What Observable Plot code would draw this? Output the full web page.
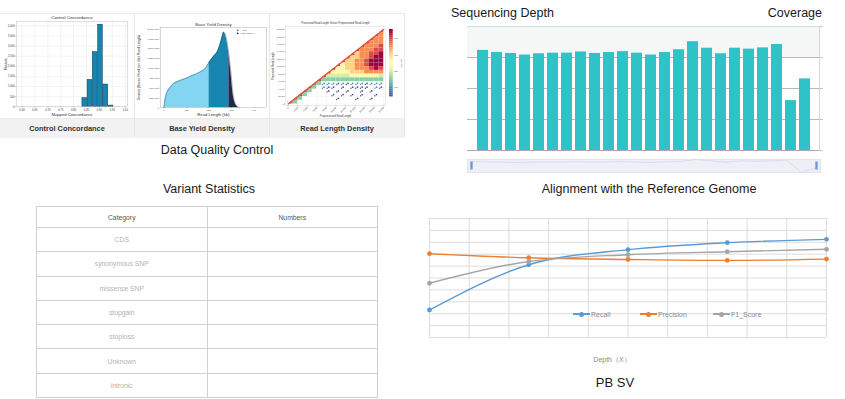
<!DOCTYPE html>
<html>
<head>
<meta charset="utf-8">
<script src="https://cdn.jsdelivr.net/npm/d3@7"></script>
<script src="https://cdn.jsdelivr.net/npm/@observablehq/plot@0.6"></script>
<style>
html,body{margin:0;padding:0;background:#fff;}
#root{position:relative;width:845px;height:399px;overflow:hidden;font-family:"Liberation Sans",Arial,sans-serif;color:#1a1a1a;}
.abs{position:absolute;}
.lbl{position:absolute;white-space:nowrap;line-height:1;}
.card{position:absolute;top:13px;width:135px;height:124px;border-top:1px solid #ececec;border-right:1px solid #e6e6e6;box-sizing:border-box;background:#fff;}
.foot{position:absolute;left:0;right:0;top:104px;height:19px;background:#f2f2f2;border-top:1px solid #e9e9e9;font-weight:bold;font-size:7.4px;color:#333;display:flex;align-items:center;justify-content:center;}
table.vs{border-collapse:collapse;table-layout:fixed;width:342px;}
table.vs td,table.vs th{border:1px solid #d0d0d0;text-align:center;padding:0;font-size:6.8px;}
table.vs th{font-weight:normal;color:#555;height:20px;}
table.vs td{color:#b3b3b3;height:23.3px;}
.legend{position:absolute;top:309px;left:573px;height:10px;display:flex;align-items:center;font-size:7px;color:#8a8a8a;}
.lg{display:flex;align-items:center;}
.sw{position:relative;width:17px;height:1.4px;margin-right:1px;}
.sw i{position:absolute;left:6px;top:-1.8px;width:5px;height:5px;border-radius:50%;}
</style>
</head>
<body>
<div id="root"></div>
<script>
// ---------- Data Quality Control: Control Concordance ----------
const concordanceBinEdges = [0.833, 0.853, 0.873, 0.894, 0.914, 0.935, 0.955];
const concordanceReads = [430, 1330, 2700, 4050, 1100, 60];
const concordanceTicks = [0.60, 0.65, 0.70, 0.75, 0.80, 0.85, 0.90, 0.95, 1.00];
const readsTicks = [0, 500, 1000, 1500, 2000, 2500, 3000, 3500, 4000];

// ---------- Base Yield Density ----------
const readLengthKb = [0, 5, 13, 25, 42, 70, 101, 130, 160, 185, 200, 218, 240, 254, 265, 276, 288, 299, 306, 313, 324, 335];
const baseDensity = [0, 220000, 383000, 500000, 608000, 690000, 758000, 830000, 908000, 1010000, 1150000, 1290000, 1460000, 1710000, 1920000, 1790000, 1375000, 790000, 375000, 167000, 42000, 0];
const yieldSplits = [200, 288];
const yieldColors = ["#84d5f2", "#1786b0", "#1c2b45"];
const yieldLegend = ["<= N50", "> N50 (approx.)"];
const densityTicks = [0, 250000, 500000, 750000, 1000000, 1250000, 1500000, 1750000, 2000000];
const readLengthTicks = [0, 100, 200, 300, 400];

// ---------- Read Length Density (density level per cell, top row first) ----------
const rlDensityRows = [
  "00000000000000000008",
  "00000000000000000087",
  "00000000000000000877",
  "00000000000000008777",
  "00000000000000087778",
  "00000000000000877788",
  "00000000000008677889",
  "00000000000086677899",
  "00000000000866778999",
  "00000000008566778999",
  "00000000085566777898",
  "00000000855556667777",
  "00000008444445555554",
  "00000083333333333333",
  "00000832221212221222",
  "00008302110101111021",
  "00083000101010010100",
  "00830000010101010010",
  "08300000001000100100",
  "83000000000000000000"
];
const rlDiagonal = [0, 20];
const rlTicks = [0, 2, 4, 6, 8, 10, 12, 14, 16, 18, 20];
const countTicks = [2, 4, 6, 8];

// ---------- Sequencing Depth / Coverage ----------
const chromosomes = ["chr1","chr2","chr3","chr4","chr5","chr6","chr7","chr8","chr9","chr10","chr11","chr12","chr13","chr14","chr15","chr16","chr17","chr18","chr19","chr20","chr21","chr22","chrX","chrY"];
const depthValues = [32.3, 31.6, 31.3, 30.8, 31.2, 31.4, 31.4, 31.8, 31.3, 31.6, 31.9, 31.4, 30.8, 31.6, 32.5, 35.1, 33.0, 31.2, 33.0, 32.7, 33.1, 34.2, 16.1, 23.1];
const coverageTicks = [0, 10, 20, 30, 40];

// ---------- Variant Statistics ----------
const variantColumns = ["Category", "Numbers"];
const variantCategories = ["CDS", "synonymous SNP", "missense SNP", "stopgain", "stoploss", "Unknown", "intronic"];

// ---------- Alignment with the Reference Genome (PB SV) ----------
const svDepth = [5, 10, 15, 20, 25];
const recall = [0.231, 0.611, 0.738, 0.797, 0.825];
const precision = [0.704, 0.670, 0.656, 0.648, 0.659];
const f1Score = [0.456, 0.639, 0.696, 0.721, 0.741];
const svSeries = ["Recall", "Precision", "F1_Score"];
const svColors = ["#5b9bd5", "#ed7d31", "#a5a5a5"];
const svGridX = [5, 7, 9, 11, 13, 15, 17, 19, 21, 23, 25];
const svGridY = [0, 0.1, 0.2, 0.3, 0.4, 0.5, 0.6, 0.7, 0.8, 0.9, 1.0];

// ================= helpers =================
const root = document.getElementById("root");
const FONT = "Liberation Sans, Arial, sans-serif";
function place(parent, el, left, top) {
  const d = document.createElement("div");
  d.className = "abs";
  d.style.left = left + "px";
  d.style.top = top + "px";
  d.appendChild(el);
  parent.appendChild(d);
  return d;
}
function label(text, x, y, o = {}) {
  const d = document.createElement("div");
  d.className = "lbl";
  d.textContent = text;
  d.style.left = x + "px";
  d.style.top = y + "px";
  d.style.fontSize = (o.size || 13) + "px";
  d.style.color = o.color || "#1a1a1a";
  if (o.weight) d.style.fontWeight = o.weight;
  const ax = o.anchor === "start" ? "0" : o.anchor === "end" ? "-100%" : "-50%";
  d.style.transform = `translate(${ax},-50%)`;
  root.appendChild(d);
  return d;
}
const tiny = {fontFamily: FONT, background: "none", overflow: "visible", color: "#444"};

// ================= Data Quality Control cards =================
const cardTitles = ["Control Concordance", "Base Yield Density", "Read Length Density"];
const cards = cardTitles.map((t, i) => {
  const c = document.createElement("div");
  c.className = "card";
  c.style.left = (i * 135) + "px";
  const f = document.createElement("div");
  f.className = "foot";
  f.textContent = t;
  c.appendChild(f);
  root.appendChild(c);
  return c;
});

// Card 1: histogram
const bins = concordanceReads.map((r, i) => ({x1: concordanceBinEdges[i], x2: concordanceBinEdges[i + 1], reads: r}));
const p1 = Plot.plot({
  width: 135, height: 105, marginLeft: 16, marginRight: 7, marginTop: 8, marginBottom: 11,
  style: {...tiny, fontSize: "2.8px"},
  x: {domain: [0.578, 1.009], label: null},
  y: {domain: [0, 4213], label: null},
  marks: [
    Plot.gridX(concordanceTicks, {stroke: "#e4e4e4", strokeOpacity: 1, strokeWidth: 0.4}),
    Plot.gridY(readsTicks, {stroke: "#e4e4e4", strokeOpacity: 1, strokeWidth: 0.4}),
    Plot.rectY(bins, {x1: "x1", x2: "x2", y: "reads", fill: "#1784af", stroke: "#0c3c55", strokeWidth: 0.5, insetLeft: 0.25, insetRight: 0.25}),
    Plot.frame({stroke: "#b0b0b0", strokeWidth: 0.4}),
    Plot.axisX(concordanceTicks, {tickFormat: d3.format(".2f"), tickSize: 1, tickPadding: 0.8, strokeWidth: 0.3, label: null}),
    Plot.axisY(readsTicks, {tickSize: 1, tickPadding: 0.8, strokeWidth: 0.3, label: null}),
    Plot.text([cardTitles[0]], {text: d => d, frameAnchor: "top", dy: -3.5, fontSize: 4.4, fill: "#333", lineAnchor: "middle"}),
    Plot.text(["Mapped Concordance"], {text: d => d, frameAnchor: "bottom", dy: 7.5, fontSize: 4.2, fill: "#333", lineAnchor: "middle"}),
    Plot.text(["Reads"], {text: d => d, frameAnchor: "left", dx: -11, rotate: -90, fontSize: 4.2, fill: "#333", textAnchor: "middle", lineAnchor: "middle"})
  ]
});
place(cards[0], p1, 0, -1);

// Card 2: base yield density
const yieldRows = readLengthKb.map((x, i) => ({x, y: baseDensity[i]}));
const yieldSegs = [
  yieldRows.filter(d => d.x <= yieldSplits[0]),
  yieldRows.filter(d => d.x >= yieldSplits[0] && d.x <= yieldSplits[1]),
  yieldRows.filter(d => d.x >= yieldSplits[1])
];
const p2 = Plot.plot({
  width: 135, height: 105, marginLeft: 25, marginRight: 3, marginTop: 14, marginBottom: 10,
  style: {...tiny, fontSize: "2.5px"},
  x: {domain: [-16, 455], label: null},
  y: {domain: [0, 2040000], label: null},
  marks: [
    ...yieldSegs.map((s, i) => Plot.areaY(s, {x: "x", y: "y", fill: yieldColors[i], curve: "monotone-x"})),
    Plot.lineY(yieldRows, {x: "x", y: "y", stroke: "#2b3d52", strokeWidth: 0.4, curve: "monotone-x"}),
    Plot.frame({stroke: "#9a9a9a", strokeWidth: 0.4}),
    Plot.axisX(readLengthTicks, {tickSize: 1, tickPadding: 0.8, strokeWidth: 0.3, label: null}),
    Plot.axisY(densityTicks, {tickSize: 1, tickPadding: 0.8, strokeWidth: 0.3, tickFormat: d3.format(","), label: null}),
    Plot.dot([yieldLegend[0]], {frameAnchor: "top-right", dx: -29, dy: 3, r: 0.9, fill: yieldColors[1]}),
    Plot.dot([yieldLegend[1]], {frameAnchor: "top-right", dx: -29, dy: 6, r: 0.9, fill: yieldColors[2]}),
    Plot.text([yieldLegend[0]], {text: d => d, frameAnchor: "top-right", dx: -27, dy: 3, fontSize: 2.2, textAnchor: "start", lineAnchor: "middle", fill: "#444"}),
    Plot.text([yieldLegend[1]], {text: d => d, frameAnchor: "top-right", dx: -27, dy: 6, fontSize: 2.2, textAnchor: "start", lineAnchor: "middle", fill: "#444"}),
    Plot.text([cardTitles[1]], {text: d => d, frameAnchor: "top", dy: -3, fontSize: 4.4, fill: "#333", lineAnchor: "middle"}),
    Plot.text(["Read Length (kb)"], {text: d => d, frameAnchor: "bottom", dy: 6.8, fontSize: 4.2, fill: "#333", lineAnchor: "middle"}),
    Plot.text(["Density (Bases Read per Unit Read Length)"], {text: d => d, frameAnchor: "left", dx: -21.5, rotate: -90, fontSize: 3.4, fill: "#333", textAnchor: "middle", lineAnchor: "middle"})
  ]
});
place(cards[1], p2, 0, -1);

// Card 3: read length density
const rlCells = rlDensityRows.flatMap((row, r) => [...row].map((ch, c) => ({c, y: rlDensityRows.length - 1 - r, level: +ch}))).filter(d => d.level > 0);
const rlColor = {type: "linear", domain: [1, 9], scheme: "spectral", reverse: true};
const rlTop = 20.8;
const p3 = Plot.plot({
  width: 135, height: 105, marginLeft: 15, marginRight: 19, marginTop: 13, marginBottom: 12,
  style: {...tiny, fontSize: "2.3px"},
  x: {domain: [-0.6, 20.4], label: null},
  y: {domain: [-0.5, rlTop], label: null},
  color: rlColor,
  marks: [
    Plot.gridX(rlTicks, {stroke: "#eeeeee", strokeOpacity: 1, strokeWidth: 0.4}),
    Plot.gridY(rlTicks, {stroke: "#eeeeee", strokeOpacity: 1, strokeWidth: 0.4}),
    Plot.rect(rlCells.filter(d => d.level >= 3), {x1: "c", x2: d => d.c + 1, y1: "y", y2: d => d.y + 1, fill: "level"}),
    Plot.dot(rlCells.filter(d => d.level <= 2), {x: d => d.c + 0.5, y: d => d.y + 0.5, fill: "level", r: 0.9}),
    Plot.dot(rlCells.filter(d => d.level <= 2), {x: d => d.c + 0.15, y: d => d.y + 0.2, fill: "level", r: 0.7}),
    Plot.areaY(rlDiagonal.map(v => ({v})), {x: "v", y1: "v", y2: () => rlTop, fill: "white"}),
    Plot.line(rlDiagonal.map(v => ({v})), {x: "v", y: "v", stroke: "#e0503a", strokeWidth: 1.2}),
    Plot.frame({stroke: "#cfcfcf", strokeWidth: 0.4}),
    Plot.axisX(rlTicks, {tickSize: 1, tickPadding: 0.5, strokeWidth: 0.3, tickRotate: -45, tickFormat: d => d3.format(",")(d * 1000), label: null}),
    Plot.axisY(rlTicks, {tickSize: 1, tickPadding: 0.5, strokeWidth: 0.3, tickFormat: d => d3.format(",")(d * 1000), label: null}),
    Plot.text(["Processed Read Length Versus Preprocessed Read Length"], {text: d => d, frameAnchor: "top", dy: -3, fontSize: 2.6, fill: "#333", lineAnchor: "middle"}),
    Plot.text(["Preprocessed Read Length"], {text: d => d, frameAnchor: "bottom", dy: 10.5, fontSize: 2.6, fill: "#333", lineAnchor: "middle"}),
    Plot.text(["Processed Read Length"], {text: d => d, frameAnchor: "left", dx: -12, rotate: -90, fontSize: 2.6, fill: "#333", textAnchor: "middle", lineAnchor: "middle"})
  ]
});
place(cards[2], p3, 0, -1);

// colour bar
const ramp = d3.range(1, 9.001, 0.25);
const cb = Plot.plot({
  width: 16, height: 74, marginLeft: 0, marginRight: 12, marginTop: 1, marginBottom: 1,
  style: {...tiny, fontSize: "2.3px"},
  x: {axis: null},
  y: {domain: [0.875, 9.125], axis: null},
  color: rlColor,
  marks: [
    Plot.rect(ramp, {y1: d => d - 0.126, y2: d => d + 0.126, fill: d => d}),
    Plot.axisY(countTicks, {anchor: "right", tickSize: 1, tickPadding: 0.5, strokeWidth: 0.3, tickFormat: d => d * 50, label: null}),
    Plot.text(["Counts"], {text: d => d, frameAnchor: "right", dx: 9, rotate: -90, fontSize: 2.6, fill: "#333", textAnchor: "middle", lineAnchor: "middle"})
  ]
});
place(cards[2], cb, 119, 14);

label("Data Quality Control", 217, 150, {size: 12.5});

// ================= Sequencing Depth / Coverage =================
label("Sequencing Depth", 451, 13, {size: 12.5, anchor: "start"});
label("Coverage", 822, 13, {size: 12.5, anchor: "end"});
const depthRows = chromosomes.map((chr, i) => ({chr, depth: depthValues[i]}));
const pBar = Plot.plot({
  width: 415, height: 140, marginLeft: 37, marginRight: 26, marginTop: 6, marginBottom: 10,
  style: {background: "none", overflow: "visible"},
  x: {type: "band", domain: chromosomes, paddingInner: 0.23, paddingOuter: 0.09, axis: null},
  y: {domain: [coverageTicks[0], coverageTicks[coverageTicks.length - 1]], axis: null},
  marks: [
    Plot.rect([coverageTicks.slice(-2)], {y1: d => d[0], y2: d => d[1], fill: "#f6f7f7"}),
    Plot.ruleY(coverageTicks.slice(1, -1), {stroke: "#b8b8b8"}),
    Plot.barY(depthRows, {x: "chr", y: "depth", fill: "#2fc2c6"}),
    Plot.ruleY([coverageTicks[0]], {stroke: "#a9a9a9"}),
    Plot.ruleY([coverageTicks[coverageTicks.length - 1]], {stroke: "#c6dfe6"}),
    Plot.frame({anchor: "right", stroke: "#d6d6d6"}),
    Plot.axisY(coverageTicks, {anchor: "right", tickSize: 3, tickFormat: () => "", stroke: "#c4c4c4", label: null})
  ]
});
place(root, pBar, 430, 20);

const pZoom = Plot.plot({
  width: 415, height: 17, marginLeft: 37, marginRight: 25, marginTop: 2, marginBottom: 2,
  style: {background: "none", overflow: "visible"},
  x: {type: "point", domain: chromosomes, padding: 0, axis: null},
  y: {domain: d3.extent(depthValues), axis: null},
  marks: [
    Plot.frame({fill: "#eef0f8", stroke: "#e1e4ee"}),
    Plot.lineY(depthRows, {x: "chr", y: "depth", stroke: "#d2d6e6", strokeWidth: 0.8}),
    Plot.ruleX([chromosomes[0], chromosomes[chromosomes.length - 1]], {stroke: "#6e98d4", strokeWidth: 2.4, insetTop: 2.5, insetBottom: 2.5})
  ]
});
place(root, pZoom, 430, 157);

// ================= Variant Statistics =================
label("Variant Statistics", 209, 189, {size: 12.5});
const tbl = document.createElement("table");
tbl.className = "vs";
const hr = document.createElement("tr");
variantColumns.forEach(c => { const th = document.createElement("th"); th.textContent = c; hr.appendChild(th); });
tbl.appendChild(hr);
variantCategories.forEach(cat => {
  const tr = document.createElement("tr");
  const a = document.createElement("td"); a.textContent = cat;
  const b = document.createElement("td"); b.textContent = "";
  tr.appendChild(a); tr.appendChild(b);
  tbl.appendChild(tr);
});
place(root, tbl, 36, 206);

// ================= Alignment with the Reference Genome =================
label("Alignment with the Reference Genome", 649, 189, {size: 12.5});
const svValues = [recall, precision, f1Score];
const svRows = svSeries.flatMap((s, k) => svDepth.map((d, i) => ({series: s, depth: d, value: svValues[k][i]})));
const pLine = Plot.plot({
  width: 420, height: 135, marginLeft: 9, marginRight: 14, marginTop: 8, marginBottom: 8,
  style: {background: "none", overflow: "visible"},
  x: {domain: [svDepth[0], svDepth[svDepth.length - 1]], axis: null},
  y: {domain: [0, 1], axis: null},
  color: {domain: svSeries, range: svColors},
  marks: [
    Plot.ruleX(svGridX, {stroke: "#dcdcdc"}),
    Plot.ruleY(svGridY, {stroke: "#dcdcdc"}),
    Plot.line(svRows, {x: "depth", y: "value", stroke: "series", z: "series", curve: "monotone-x", strokeWidth: 1.4}),
    Plot.dot(svRows, {x: "depth", y: "value", fill: "series", r: 2.4})
  ]
});
place(root, pLine, 420, 210);

const lg = document.createElement("div");
lg.className = "legend";
const lgWidths = [67, 73, 60];
svSeries.forEach((s, k) => {
  const it = document.createElement("div");
  it.className = "lg";
  it.style.width = lgWidths[k] + "px";
  const sw = document.createElement("div");
  sw.className = "sw";
  sw.style.background = svColors[k];
  const dot = document.createElement("i");
  dot.style.background = svColors[k];
  sw.appendChild(dot);
  const t = document.createElement("span");
  t.textContent = s;
  it.appendChild(sw); it.appendChild(t);
  lg.appendChild(it);
});
root.appendChild(lg);

label("Depth（X）", 612, 359, {size: 7, color: "#8a8a8a"});
label("PB SV", 615, 382, {size: 13});
</script>
</body>
</html>
